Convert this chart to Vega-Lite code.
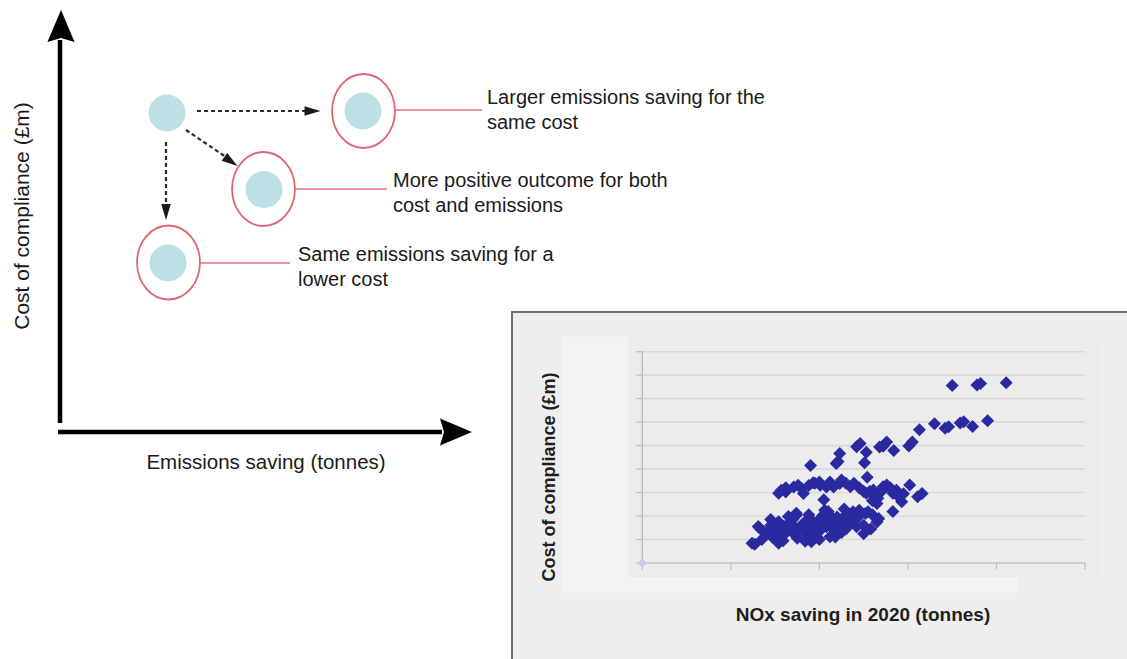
{
  "$schema": "https://vega.github.io/schema/vega-lite/v6.json",
  "width": 1127,
  "height": 659,
  "autosize": "none",
  "padding": 0,
  "background": "white",
  "config": {"view": {"stroke": null}, "font": "Liberation Sans"},
  "layer": [
    {
      "encoding": {
        "x": {"field": "x", "type": "quantitative", "scale": {"domain": [0, 1127], "range": [0, 1127], "nice": false, "zero": false}, "axis": null},
        "y": {"field": "y", "type": "quantitative", "scale": {"domain": [0, 659], "range": [0, 659], "nice": false, "zero": false}, "axis": null}
      },
      "layer": [
        {
          "data": {"values": [{"x": 512, "x2": 1132, "y": 312, "y2": 664}]},
          "mark": {"type": "rect", "fill": "#eeeeee", "stroke": "#6e6e6e", "strokeWidth": 2},
          "encoding": {"x2": {"field": "x2"}, "y2": {"field": "y2"}}
        },
        {
          "data": {"values": [{"x": 562, "x2": 1018, "y": 337, "y2": 593}]},
          "mark": {"type": "rect", "fill": "#f3f3f3"},
          "encoding": {"x2": {"field": "x2"}, "y2": {"field": "y2"}}
        },
        {
          "data": {"values": [{"x": 628, "x2": 1100, "y": 337, "y2": 577}]},
          "mark": {"type": "rect", "fill": "#ececec"},
          "encoding": {"x2": {"field": "x2"}, "y2": {"field": "y2"}}
        },
        {
          "data": {"values": [{"x": 555, "y": 477, "t": "Cost of compliance (£m)"}]},
          "mark": {"type": "text", "angle": 270, "align": "center", "baseline": "alphabetic", "fontSize": 18, "fontWeight": "bold", "fill": "#1e1e1e"},
          "encoding": {"text": {"field": "t"}}
        },
        {
          "data": {"values": [{"x": 863, "y": 621, "t": "NOx saving in 2020 (tonnes)"}]},
          "mark": {"type": "text", "align": "center", "baseline": "alphabetic", "fontSize": 19, "fontWeight": "bold", "fill": "#1e1e1e"},
          "encoding": {"text": {"field": "t"}}
        },
        {
          "data": {"values": [{"x": 60, "y": 40, "y2": 423}]},
          "mark": {"type": "rule", "stroke": "black", "strokeWidth": 4.5},
          "encoding": {"y2": {"field": "y2"}}
        },
        {
          "data": {"values": [{"x": 58, "x2": 442, "y": 432}]},
          "mark": {"type": "rule", "stroke": "black", "strokeWidth": 4.5},
          "encoding": {"x2": {"field": "x2"}}
        },
        {
          "data": {"values": [{"x": 61, "y": 26}]},
          "mark": {"type": "point", "shape": "M0,-1L0.85,1L0,0.75L-0.85,1Z", "size": 1024, "filled": true, "fill": "black", "opacity": 1, "strokeWidth": 0},
          "encoding": {}
        },
        {
          "data": {"values": [{"x": 456, "y": 432}]},
          "mark": {"type": "point", "shape": "M1,0L-1,0.85L-0.75,0L-1,-0.85Z", "size": 1024, "filled": true, "fill": "black", "opacity": 1, "strokeWidth": 0},
          "encoding": {}
        },
        {
          "data": {"values": [{"x": 29, "y": 216, "t": "Cost of compliance (£m)"}]},
          "mark": {"type": "text", "angle": 270, "align": "center", "baseline": "alphabetic", "fontSize": 21, "fill": "#1a1a1a"},
          "encoding": {"text": {"field": "t"}}
        },
        {
          "data": {"values": [{"x": 266, "y": 469, "t": "Emissions saving (tonnes)"}]},
          "mark": {"type": "text", "align": "center", "baseline": "alphabetic", "fontSize": 20.5, "fill": "#1a1a1a"},
          "encoding": {"text": {"field": "t"}}
        },
        {
          "data": {"values": [
            {"x": 487, "y": 104, "t": ["Larger emissions saving for the", "same cost"]},
            {"x": 393, "y": 187, "t": ["More positive outcome for both", "cost and emissions"]},
            {"x": 298, "y": 261, "t": ["Same emissions saving for a", "lower cost"]}
          ]},
          "mark": {"type": "text", "align": "left", "baseline": "alphabetic", "fontSize": 20, "lineHeight": 25, "fill": "#1a1a1a"},
          "encoding": {"text": {"field": "t", "type": "nominal"}}
        },
        {
          "data": {"values": [
            {"x": 395, "x2": 482, "y": 110},
            {"x": 295, "x2": 387, "y": 189},
            {"x": 200, "x2": 290, "y": 263}
          ]},
          "mark": {"type": "rule", "stroke": "#e07580", "strokeWidth": 1.5},
          "encoding": {"x2": {"field": "x2"}}
        },
        {
          "data": {"values": [
            {"x": 363.5, "y": 111},
            {"x": 263.5, "y": 189},
            {"x": 168.5, "y": 262.5}
          ]},
          "mark": {"type": "point", "shape": "M0.85,0A0.85,1,0,1,1,-0.85,0A0.85,1,0,1,1,0.85,0Z", "size": 5476, "filled": false, "stroke": "#dd6673", "strokeWidth": 1.8, "opacity": 1},
          "encoding": {}
        },
        {
          "data": {"values": [
            {"x": 167, "y": 113},
            {"x": 363, "y": 111},
            {"x": 264, "y": 189.5},
            {"x": 168, "y": 263}
          ]},
          "mark": {"type": "point", "shape": "circle", "size": 1369, "filled": true, "fill": "#bde0e7", "opacity": 1, "strokeWidth": 0},
          "encoding": {}
        },
        {
          "data": {"values": [
            {"x": 197, "y": 111, "x2": 306, "y2": 111},
            {"x": 186, "y": 130, "x2": 226, "y2": 157},
            {"x": 166, "y": 142, "x2": 166, "y2": 205}
          ]},
          "mark": {"type": "rule", "stroke": "#2a2a2a", "strokeWidth": 2.2, "strokeDash": [4, 3]},
          "encoding": {"x2": {"field": "x2"}, "y2": {"field": "y2"}}
        },
        {
          "data": {"values": [{"x": 312.5, "y": 111}]},
          "mark": {"type": "point", "shape": "M0,-1L0.6,1L-0.6,1Z", "size": 256, "angle": 90, "filled": true, "fill": "#1a1a1a", "opacity": 1, "strokeWidth": 0},
          "encoding": {}
        },
        {
          "data": {"values": [{"x": 166, "y": 212}]},
          "mark": {"type": "point", "shape": "M0,-1L0.6,1L-0.6,1Z", "size": 256, "angle": 180, "filled": true, "fill": "#1a1a1a", "opacity": 1, "strokeWidth": 0},
          "encoding": {}
        },
        {
          "data": {"values": [{"x": 231, "y": 161.5}]},
          "mark": {"type": "point", "shape": "M0,-1L0.6,1L-0.6,1Z", "size": 256, "angle": 125, "filled": true, "fill": "#1a1a1a", "opacity": 1, "strokeWidth": 0},
          "encoding": {}
        }
      ]
    },
    {
      "encoding": {
        "x": {"field": "nox", "type": "quantitative", "scale": {"domain": [0, 5], "range": [642.3, 1085], "nice": false, "zero": false}, "axis": null},
        "y": {"field": "cost", "type": "quantitative", "scale": {"domain": [0, 9], "range": [563, 351.7], "nice": false, "zero": false}, "axis": null}
      },
      "layer": [
        {
          "data": {"values": [
            {"nox": 0, "nox2": 5, "cost": 1}, {"nox": 0, "nox2": 5, "cost": 2}, {"nox": 0, "nox2": 5, "cost": 3},
            {"nox": 0, "nox2": 5, "cost": 4}, {"nox": 0, "nox2": 5, "cost": 5}, {"nox": 0, "nox2": 5, "cost": 6},
            {"nox": 0, "nox2": 5, "cost": 7}, {"nox": 0, "nox2": 5, "cost": 8}, {"nox": 0, "nox2": 5, "cost": 9}
          ]},
          "mark": {"type": "rule", "stroke": "#d9d9d9", "strokeWidth": 1.6},
          "encoding": {"x2": {"field": "nox2"}}
        },
        {
          "data": {"values": [
            {"nox": -0.065, "nox2": 0, "cost": 0}, {"nox": -0.065, "nox2": 0, "cost": 1}, {"nox": -0.065, "nox2": 0, "cost": 2},
            {"nox": -0.065, "nox2": 0, "cost": 3}, {"nox": -0.065, "nox2": 0, "cost": 4}, {"nox": -0.065, "nox2": 0, "cost": 5},
            {"nox": -0.065, "nox2": 0, "cost": 6}, {"nox": -0.065, "nox2": 0, "cost": 7}, {"nox": -0.065, "nox2": 0, "cost": 8},
            {"nox": -0.065, "nox2": 0, "cost": 9}
          ]},
          "mark": {"type": "rule", "stroke": "#bdbdbd", "strokeWidth": 1.3},
          "encoding": {"x2": {"field": "nox2"}}
        },
        {
          "data": {"values": [
            {"nox": 0, "cost": 0, "cost2": -0.28}, {"nox": 1, "cost": 0, "cost2": -0.28}, {"nox": 2, "cost": 0, "cost2": -0.28},
            {"nox": 3, "cost": 0, "cost2": -0.28}, {"nox": 4, "cost": 0, "cost2": -0.28}, {"nox": 5, "cost": 0, "cost2": -0.28}
          ]},
          "mark": {"type": "rule", "stroke": "#bdbdbd", "strokeWidth": 1.3},
          "encoding": {"y2": {"field": "cost2"}}
        },
        {
          "data": {"values": [{"nox": 0, "nox2": 5, "cost": 0}]},
          "mark": {"type": "rule", "stroke": "#c4c4c4", "strokeWidth": 1.6},
          "encoding": {"x2": {"field": "nox2"}}
        },
        {
          "data": {"values": [{"nox": 0, "cost": 0, "cost2": 9}]},
          "mark": {"type": "rule", "stroke": "#bcbcbc", "strokeWidth": 1.4},
          "encoding": {"y2": {"field": "cost2"}}
        },
        {
          "data": {"values": [{"nox": 0, "cost": 0}]},
          "mark": {"type": "point", "shape": "diamond", "size": 90, "filled": true, "fill": "#c9c9f2", "opacity": 1, "strokeWidth": 0},
          "encoding": {}
        },
        {
          "data": {"values": [
            {"nox": 3.50, "cost": 7.56}, {"nox": 3.78, "cost": 7.58}, {"nox": 3.82, "cost": 7.65}, {"nox": 4.11, "cost": 7.68},
            {"nox": 3.30, "cost": 5.93}, {"nox": 3.42, "cost": 5.74}, {"nox": 3.46, "cost": 5.80}, {"nox": 3.59, "cost": 5.96},
            {"nox": 3.63, "cost": 6.02}, {"nox": 3.73, "cost": 5.81}, {"nox": 3.90, "cost": 6.06}, {"nox": 3.13, "cost": 5.68},
            {"nox": 3.01, "cost": 4.98}, {"nox": 3.05, "cost": 5.15},
            {"nox": 2.68, "cost": 4.94}, {"nox": 2.72, "cost": 4.97}, {"nox": 2.76, "cost": 5.15}, {"nox": 2.84, "cost": 4.79},
            {"nox": 2.42, "cost": 4.95}, {"nox": 2.46, "cost": 5.09}, {"nox": 2.53, "cost": 4.72},
            {"nox": 2.23, "cost": 4.66}, {"nox": 2.19, "cost": 4.24}, {"nox": 2.21, "cost": 4.32}, {"nox": 2.51, "cost": 4.27},
            {"nox": 1.90, "cost": 4.15}, {"nox": 2.54, "cost": 3.65},
            {"nox": 3.02, "cost": 3.32}, {"nox": 3.11, "cost": 2.82}, {"nox": 3.16, "cost": 2.96}, {"nox": 2.72, "cost": 3.25},
            {"nox": 2.76, "cost": 3.32}, {"nox": 2.83, "cost": 2.97}, {"nox": 2.87, "cost": 3.10}, {"nox": 2.93, "cost": 2.61},
            {"nox": 2.83, "cost": 2.19}, {"nox": 2.53, "cost": 2.97}, {"nox": 2.57, "cost": 3.05}, {"nox": 2.63, "cost": 2.89},
            {"nox": 2.65, "cost": 2.53}, {"nox": 2.66, "cost": 2.76},
            {"nox": 2.35, "cost": 3.25}, {"nox": 2.39, "cost": 3.40}, {"nox": 2.25, "cost": 3.53}, {"nox": 2.23, "cost": 3.39},
            {"nox": 2.16, "cost": 3.24}, {"nox": 2.05, "cost": 2.69}, {"nox": 2.01, "cost": 3.31}, {"nox": 2.08, "cost": 3.24},
            {"nox": 1.93, "cost": 3.42}, {"nox": 1.82, "cost": 2.96}, {"nox": 1.80, "cost": 3.17}, {"nox": 1.71, "cost": 3.24},
            {"nox": 1.76, "cost": 3.31}, {"nox": 1.54, "cost": 2.97}, {"nox": 1.57, "cost": 3.10}, {"nox": 1.62, "cost": 3.03},
            {"nox": 2.50, "cost": 3.05}, {"nox": 2.61, "cost": 3.11}, {"nox": 1.95, "cost": 3.40}, {"nox": 2.12, "cost": 3.45},
            {"nox": 1.62, "cost": 3.20}, {"nox": 1.88, "cost": 3.30}, {"nox": 2.00, "cost": 3.45}, {"nox": 2.30, "cost": 3.40},
            {"nox": 2.45, "cost": 3.20}, {"nox": 2.70, "cost": 3.05}, {"nox": 2.80, "cost": 3.20}, {"nox": 2.95, "cost": 2.95},
            {"nox": 2.90, "cost": 2.80}, {"nox": 2.60, "cost": 2.65},
            {"nox": 2.52, "cost": 2.11}, {"nox": 2.55, "cost": 2.18}, {"nox": 2.65, "cost": 1.75}, {"nox": 2.67, "cost": 1.89},
            {"nox": 2.50, "cost": 1.61}, {"nox": 2.50, "cost": 1.25},
            {"nox": 1.31, "cost": 1.55}, {"nox": 1.40, "cost": 1.27}, {"nox": 1.24, "cost": 0.84}, {"nox": 1.27, "cost": 0.80},
            {"nox": 1.54, "cost": 1.76}, {"nox": 1.65, "cost": 1.98}, {"nox": 1.74, "cost": 2.12}, {"nox": 1.555, "cost": 1.27},
            {"nox": 1.54, "cost": 0.84}, {"nox": 1.59, "cost": 0.95}, {"nox": 1.65, "cost": 1.41}, {"nox": 1.80, "cost": 1.62},
            {"nox": 1.86, "cost": 1.19}, {"nox": 1.91, "cost": 1.83}, {"nox": 2.03, "cost": 1.91}, {"nox": 2.10, "cost": 2.19},
            {"nox": 2.03, "cost": 1.48}, {"nox": 1.91, "cost": 0.91}, {"nox": 1.84, "cost": 0.93}, {"nox": 2.12, "cost": 1.12},
            {"nox": 1.33, "cost": 1.47}, {"nox": 1.52, "cost": 1.68}, {"nox": 1.67, "cost": 1.75}, {"nox": 1.74, "cost": 2.03},
            {"nox": 1.86, "cost": 1.68}, {"nox": 1.91, "cost": 1.54}, {"nox": 1.99, "cost": 1.82}, {"nox": 2.04, "cost": 2.03},
            {"nox": 2.10, "cost": 1.68}, {"nox": 2.16, "cost": 1.75}, {"nox": 2.20, "cost": 1.96}, {"nox": 2.23, "cost": 1.68},
            {"nox": 2.35, "cost": 1.96}, {"nox": 2.33, "cost": 1.61}, {"nox": 2.38, "cost": 2.18}, {"nox": 2.21, "cost": 1.39},
            {"nox": 2.18, "cost": 1.11}, {"nox": 2.01, "cost": 1.39}, {"nox": 1.63, "cost": 1.39}, {"nox": 1.71, "cost": 1.25},
            {"nox": 1.78, "cost": 1.47}, {"nox": 1.97, "cost": 1.11}, {"nox": 2.06, "cost": 2.25}, {"nox": 2.28, "cost": 2.30},
            {"nox": 2.40, "cost": 1.80}, {"nox": 1.45, "cost": 1.60}, {"nox": 1.60, "cost": 1.55}, {"nox": 2.30, "cost": 2.05},
            {"nox": 2.45, "cost": 2.00}, {"nox": 1.70, "cost": 1.85}, {"nox": 1.88, "cost": 2.05}, {"nox": 2.15, "cost": 1.50},
            {"nox": 2.25, "cost": 1.30}, {"nox": 1.95, "cost": 1.65},
            {"nox": 1.45, "cost": 1.85}, {"nox": 1.50, "cost": 1.45}, {"nox": 1.60, "cost": 1.20}, {"nox": 1.70, "cost": 1.60},
            {"nox": 1.75, "cost": 1.05}, {"nox": 1.82, "cost": 1.35}, {"nox": 1.85, "cost": 1.80}, {"nox": 1.95, "cost": 1.35},
            {"nox": 2.00, "cost": 1.00}, {"nox": 2.08, "cost": 1.55}, {"nox": 2.15, "cost": 1.90}, {"nox": 2.28, "cost": 1.85},
            {"nox": 2.30, "cost": 1.45}, {"nox": 2.42, "cost": 1.55}, {"nox": 2.45, "cost": 2.25}, {"nox": 1.35, "cost": 1.00},
            {"nox": 1.47, "cost": 1.10}, {"nox": 2.60, "cost": 2.05}, {"nox": 2.58, "cost": 1.45}
          ]},
          "mark": {"type": "point", "shape": "diamond", "size": 170, "filled": true, "fill": "#2a2aa0", "opacity": 1, "strokeWidth": 0},
          "encoding": {}
        }
      ]
    }
  ],
  "resolve": {"scale": {"x": "independent", "y": "independent"}}
}
